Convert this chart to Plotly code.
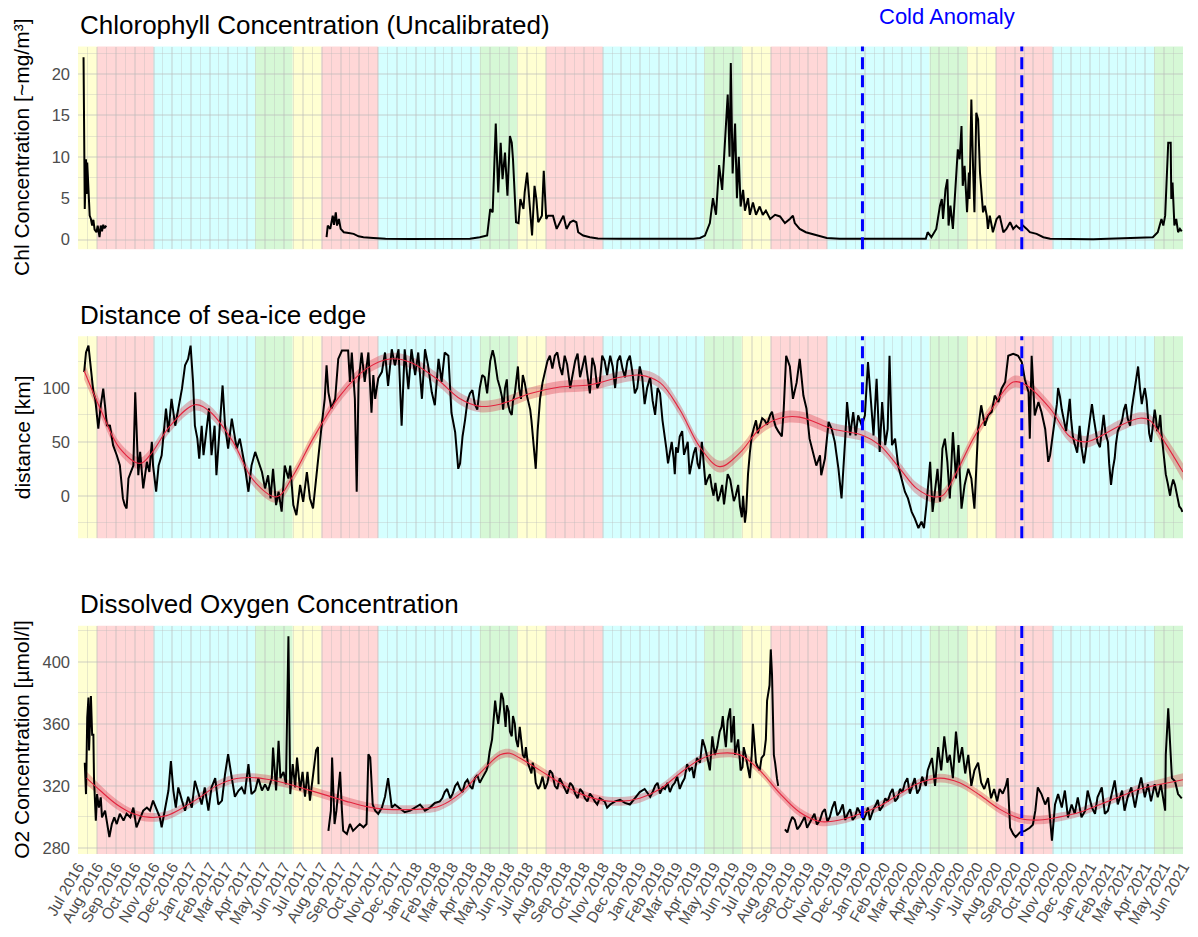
import pandas as pd
import plotly.graph_objects as go

# ---------------- DATA (time given as days since 2016-07-01) ----------------
START = pd.Timestamp("2016-07-01")
END = pd.Timestamp("2021-06-01")

# Chlorophyll (uncalibrated) segments
chl_seg1 = [(9, 22.0), (11, 3.7), (13, 9.7), (14, 5.5), (15, 9.3), (17, 6.4), (19, 2.9), (21, 2.5),
            (23, 1.7), (25, 2.4), (27, 1.2), (30, 0.9), (32, 1.7), (35, 0.3), (37, 1.7), (39, 1.0),
            (41, 1.8), (43, 1.4), (46, 1.7)]
chl_seg2 = [(404, 0.3), (406, 1.7), (410, 1.3), (414, 2.9), (416, 1.8), (419, 3.3), (421, 1.7), (424, 2.5),
            (427, 1.3), (432, 0.9), (440, 0.8), (448, 0.7), (456, 0.4), (464, 0.3), (480, 0.2), (500, 0.1),
            (540, 0.08), (600, 0.06), (637, 0.1), (653, 0.3), (665, 0.5), (670, 3.7), (674, 3.3), (679, 14.0),
            (683, 5.7), (687, 11.7), (690, 7.3), (694, 10.5), (698, 5.3), (702, 12.5), (705, 11.7), (707, 9.7),
            (712, 2.1), (716, 2.0), (719, 4.9), (724, 3.7), (726, 5.7), (730, 8.1), (735, 2.9), (738, 0.5),
            (742, 6.5), (745, 4.9), (748, 2.1), (754, 2.9), (757, 8.3), (761, 2.5), (764, 2.9), (772, 2.9),
            (778, 1.3), (783, 2.1), (789, 2.9), (794, 1.3), (800, 2.1), (805, 2.3), (810, 2.1), (813, 0.9),
            (821, 0.5), (832, 0.3), (845, 0.15), (880, 0.1), (950, 0.08), (1000, 0.1), (1011, 0.2), (1019, 0.5),
            (1027, 2.0), (1032, 5.0), (1037, 3.0), (1042, 9.0), (1047, 6.0), (1052, 12.0), (1056, 17.5),
            (1059, 10.0), (1061, 21.3), (1064, 8.0), (1068, 14.0), (1071, 5.0), (1074, 10.0), (1077, 4.0),
            (1081, 6.0), (1084, 3.5), (1089, 5.0), (1092, 3.0), (1097, 4.5), (1102, 3.0), (1108, 4.0),
            (1113, 3.0), (1118, 3.5), (1125, 2.5), (1133, 3.0), (1141, 2.8), (1149, 2.0), (1157, 2.5),
            (1162, 2.9), (1165, 2.0), (1173, 1.3), (1183, 0.9), (1201, 0.5), (1217, 0.2), (1238, 0.1),
            (1300, 0.06), (1378, 0.1), (1381, 0.9), (1387, 0.3), (1395, 1.3), (1401, 4.1), (1404, 4.9),
            (1406, 2.5), (1410, 6.1), (1413, 7.3), (1415, 1.7), (1418, 4.1), (1422, 1.3), (1427, 7.7),
            (1430, 10.9), (1433, 9.7), (1436, 13.7), (1438, 6.5), (1441, 8.9), (1445, 3.3), (1448, 8.1),
            (1449, 4.9), (1452, 16.9), (1455, 8.1), (1457, 3.3), (1460, 15.3), (1463, 14.5), (1466, 8.1),
            (1468, 5.7), (1471, 3.3), (1474, 4.1), (1477, 2.9), (1479, 1.3), (1482, 2.9), (1487, 0.9),
            (1493, 2.5), (1498, 2.9), (1504, 0.9), (1509, 1.3), (1515, 2.1), (1520, 1.3), (1525, 1.7),
            (1531, 1.3), (1536, 1.7), (1542, 1.3), (1547, 0.9), (1558, 0.7), (1569, 0.3), (1580, 0.1),
            (1650, 0.06), (1747, 0.3), (1755, 0.9), (1761, 2.5), (1764, 1.7), (1767, 2.9), (1769, 6.5),
            (1772, 11.7), (1776, 11.7), (1777, 4.9), (1779, 6.9), (1782, 1.7), (1785, 2.5), (1788, 0.9),
            (1791, 1.3), (1794, 1.0)]

# Distance of sea-ice edge [km]
dist_obs = [(10, 114.8), (13, 133), (17, 139.4), (20, 121), (25, 96.3), (28, 90), (33, 62.3), (37, 83.9),
            (41, 99.4), (44, 83), (47, 65.4), (52, 65), (57, 46.9), (63, 37.6), (68, 28.3), (73, -2.5),
            (76, -8.7), (79, -11.8), (82, 16), (86, 22.2), (90, 28), (93, 96), (95, 59), (98, 19), (101, 40.7),
            (104, 16), (106, 6.8), (112, 31.5), (116, 22), (120, 50), (122, 28), (127, 3.7), (131, 28),
            (136, 37.6), (143, 80.8), (147, 59), (152, 90), (158, 65), (163, 81), (169, 99.4), (174, 121),
            (179, 127), (183, 139.4), (187, 105.6), (190, 65), (194, 53), (197, 34.5), (201, 65), (204, 37.6),
            (209, 65), (213, 81), (217, 37.6), (222, 65), (225, 19), (230, 59), (235, 102.4), (239, 65),
            (244, 43.8), (250, 71.6), (254, 56), (258, 43.8), (263, 53), (271, 28.3), (277, 3.7), (282, 28),
            (288, 40.7), (293, 31.5), (299, 22), (304, 6.8), (309, 19), (313, -2.5), (317, 25), (322, -8.7),
            (326, 3.7), (331, -14.8), (336, 28), (342, 16), (345, 28), (350, -8.7), (355, -18), (361, 10),
            (366, -5.6), (372, 22), (377, -2.5), (382, -11.8), (388, 22), (391, 40.7), (396, 65), (401, 90),
            (404, 121), (407, 96), (412, 81), (418, 90), (423, 127), (429, 134.8), (434, 134.8), (439, 134.8),
            (442, 105.6), (445, 133), (450, 90), (453, 3.7), (456, 105), (461, 133), (466, 105.6), (472, 133),
            (477, 77), (480, 112), (483, 90), (488, 109), (494, 115), (499, 133), (504, 102), (510, 136),
            (515, 121), (521, 136), (526, 65), (531, 136), (537, 99), (542, 136), (548, 112), (553, 133),
            (559, 90), (564, 136), (569, 121), (575, 96), (580, 84), (586, 127), (591, 105.6), (596, 133),
            (602, 130), (607, 77), (613, 59), (618, 25), (621, 30), (625, 55), (629, 70), (633, 88), (637, 95),
            (641, 98), (645, 85), (649, 80), (653, 100), (657, 112), (661, 110), (665, 95), (670, 125),
            (674, 135), (677, 128), (679, 120), (682, 108), (686, 100), (689, 92), (691, 80), (694, 100),
            (697, 108), (699, 85), (702, 78), (705, 75), (707, 88), (710, 95), (712, 105), (715, 120),
            (717, 100), (720, 90), (723, 112), (726, 105), (730, 92), (735, 80), (737, 70), (739, 55),
            (741, 40), (744, 25), (747, 60), (751, 90), (755, 105), (759, 115), (763, 125), (767, 130),
            (771, 118), (775, 130), (779, 133), (783, 120), (787, 112), (791, 130), (795, 122), (800, 100),
            (804, 112), (808, 125), (812, 132), (816, 110), (820, 120), (824, 130), (828, 112), (832, 95),
            (836, 128), (840, 120), (844, 100), (848, 105), (852, 130), (856, 125), (860, 112), (865, 130),
            (869, 120), (873, 100), (877, 125), (881, 130), (885, 118), (889, 110), (893, 125), (897, 130),
            (901, 115), (905, 95), (909, 100), (913, 120), (917, 110), (921, 85), (925, 100), (930, 110),
            (934, 88), (938, 75), (942, 100), (946, 95), (950, 70), (954, 55), (956, 45), (959, 30), (962, 40),
            (965, 50), (968, 35), (970, 20), (972, 45), (975, 40), (978, 55), (982, 60), (985, 38), (988, 45),
            (991, 50), (994, 20), (997, 30), (1001, 40), (1004, 45), (1007, 30), (1010, 25), (1014, 50),
            (1017, 30), (1020, 10), (1023, 15), (1027, 20), (1030, 8), (1033, 0), (1036, 12), (1040, -5),
            (1043, 0), (1047, 10), (1050, -8), (1053, 5), (1056, 20), (1060, 15), (1063, 5), (1066, -5),
            (1069, 0), (1073, 10), (1076, -10), (1079, -20), (1081, 0), (1084, -25), (1086, -15), (1089, 20),
            (1092, 40), (1095, 55), (1098, 62), (1102, 70), (1105, 58), (1108, 65), (1112, 72), (1116, 70),
            (1120, 66), (1125, 75), (1128, 78), (1131, 70), (1134, 64), (1138, 60), (1141, 58), (1144, 55),
            (1147, 80), (1151, 130), (1157, 120),
            (1162, 90), (1168, 105), (1173, 127), (1179, 93), (1184, 81), (1189, 53), (1195, 40.7), (1200, 28),
            (1206, 37.6), (1208, 19), (1214, 34.5), (1220, 68.5), (1225, 62), (1230, 50), (1236, 25),
            (1241, -2.5), (1247, 53), (1250, 87), (1255, 56), (1260, 77.7), (1264, 56), (1268, 74.6),
            (1274, 65), (1279, 74.6), (1284, 124), (1288, 93), (1293, 56), (1298, 108.6), (1303, 40.7),
            (1307, 87), (1312, 47), (1316, 62), (1319, 130), (1323, 47), (1328, 53), (1333, 28), (1339, 16),
            (1344, 3.7), (1349, -2.5), (1355, -15), (1360, -21), (1366, -30), (1371, -24), (1375, -30),
            (1379, -8.7), (1385, 31.5), (1389, -15), (1393, 3.7), (1397, 25), (1401, -5.6), (1405, 43.8),
            (1409, 53), (1413, 31.5), (1417, -2.5), (1422, 59), (1427, 16), (1431, 47), (1436, -12),
            (1441, 9.8), (1447, 25), (1452, 16), (1457, -12), (1463, 62), (1468, 84), (1474, 65), (1479, 74.6),
            (1485, 77.7), (1490, 93), (1496, 87), (1501, 99.4), (1507, 105.6), (1512, 130), (1520, 131.8),
            (1528, 130), (1534, 124), (1539, 108), (1545, 96), (1547, 53), (1550, 130), (1555, 74.6),
            (1561, 87), (1566, 77.7), (1572, 62), (1577, 31.5), (1580, 37.6), (1584, 55), (1588, 70),
            (1591, 85), (1593, 100), (1596, 92), (1599, 80), (1603, 70), (1606, 60), (1609, 75), (1612, 90),
            (1614, 72), (1617, 55), (1620, 48), (1624, 40), (1626, 52), (1628, 65), (1631, 45), (1635, 30),
            (1638, 42), (1641, 55), (1644, 70), (1648, 85), (1651, 72), (1654, 60), (1657, 50), (1661, 45),
            (1664, 62), (1667, 75), (1670, 58), (1674, 50), (1676, 30), (1679, 10), (1682, 25), (1685, 35),
            (1687, 48), (1690, 60), (1693, 64), (1697, 70), (1700, 80), (1703, 85), (1706, 72), (1710, 65),
            (1713, 82), (1716, 95), (1719, 105), (1723, 120), (1726, 100), (1729, 85), (1731, 92), (1734, 100),
            (1737, 88), (1739, 70), (1741, 58), (1744, 50), (1747, 68), (1750, 80), (1752, 72), (1754, 60),
            (1757, 65), (1759, 75), (1761, 58), (1764, 40), (1766, 30), (1768, 20), (1771, 12), (1775, 0),
            (1777, 8), (1780, 15), (1783, 10), (1785, 5), (1788, -2), (1790, -10), (1793, -12), (1795, -15)]
dist_smooth = [(10, 116), (36, 81), (68, 44), (101, 30), (117, 37.6), (150, 65), (190, 84.5), (215, 77.7),
               (252, 50), (285, 14.4), (323, -1), (350, 19), (382, 53), (426, 93), (469, 118), (507, 127),
               (540, 124), (583, 108.6), (621, 90), (653, 83), (686, 85), (735, 95), (783, 101), (832, 103),
               (881, 110), (913, 112), (946, 105), (978, 80), (1011, 45), (1043, 27), (1076, 40), (1108, 62),
               (1141, 72), (1173, 73), (1227, 62), (1276, 56), (1303, 47), (1336, 25), (1363, 6.8), (1390, -1),
               (1406, 0.5), (1428, 22), (1455, 53), (1482, 77.7), (1520, 105.6), (1542, 102.4), (1580, 81),
               (1612, 55), (1637, 50), (1661, 55), (1693, 65), (1726, 72), (1742, 70), (1766, 50), (1796, 22)]
dist_band = [8.0, 6.5, 5.5, 5.5, 5.5, 5.5, 5.5, 5.5, 5.5, 5.5, 5.5, 5.5, 5.5, 5.5, 5.5, 5.5, 5.5, 5.5, 5.5,
             5.5, 5.5, 5.5, 5.5, 5.5, 5.5, 5.5, 5.5, 5.5, 5.5, 5.5, 5.5, 5.5, 5.5, 5.5, 5.5, 5.5, 5.5, 5.5,
             5.5, 5.5, 5.5, 5.5, 5.5, 5.5, 5.5, 5.5, 5.5, 5.5, 5.5, 5.5, 5.5, 5.5, 5.5, 6.5, 8.0]

# Dissolved oxygen [µmol/l] segments
o2_seg1 = [(11, 335), (13, 314.7), (15, 364), (17, 377), (18, 342.8), (21, 378), (23, 353), (25, 353),
           (26, 325), (29, 297.6), (31, 314.7), (34, 306), (37, 312.6), (39, 299.7), (44, 304), (47, 295.4),
           (51, 287), (55, 295.4), (59, 299.7), (63, 295.4), (68, 302), (74, 297.6), (79, 302), (85, 299.7),
           (90, 306), (95, 293.3), (101, 299.7), (106, 304), (112, 306), (117, 304), (122, 310.5), (128, 304),
           (133, 299.7), (136, 293.3), (141, 304), (147, 317), (151, 336), (155, 317), (159, 306), (163, 319),
           (169, 310.5), (174, 304), (179, 313), (185, 306), (190, 323.3), (196, 314.7), (201, 308), (206, 319),
           (212, 304), (217, 319), (223, 325), (228, 308), (234, 310.5), (239, 327.5), (244, 340.4), (250, 325),
           (255, 313), (261, 317), (266, 319), (271, 314.7), (277, 334), (282, 314.7), (288, 317), (293, 325),
           (299, 317), (304, 321), (309, 317), (315, 325), (317, 344.7), (322, 317), (326, 349), (329, 325),
           (334, 329), (338, 321), (342, 416.5), (345, 314.7), (349, 334), (353, 319), (356, 338.3), (361, 317),
           (365, 329), (369, 313), (373, 329), (377, 310.5), (381, 325), (384, 334), (387, 343), (390, 345),
           (391, 321)]
o2_seg2 = [(407, 291), (411, 304), (413, 338.3), (417, 295.4), (420, 304), (426, 329), (429, 304), (431, 291),
           (437, 289), (442, 295.4), (447, 291), (453, 293.3), (458, 295.4), (464, 293.3), (469, 295.4),
           (472, 340.4), (475, 338.3), (479, 308), (483, 304), (488, 302), (494, 306), (499, 313), (504, 325),
           (510, 306), (515, 308), (521, 306), (531, 303), (540, 304), (548, 306), (556, 308), (564, 304),
           (572, 306), (580, 309), (588, 310), (592, 312), (596, 316), (600, 318), (605, 312), (609, 315),
           (613, 320), (617, 322), (621, 318), (625, 316), (629, 322), (633, 324), (637, 320), (641, 318),
           (645, 325), (649, 327), (653, 322), (657, 325), (661, 328), (664, 330), (666, 333), (669, 342),
           (673, 350), (675, 362), (678, 375), (680, 368), (683, 360), (686, 370), (688, 380), (691, 376),
           (694, 365), (695, 358), (697, 372), (700, 368), (702, 355), (705, 352), (707, 365), (710, 360),
           (712, 350), (715, 345), (718, 358), (720, 352), (723, 340), (726, 338), (728, 345), (731, 335),
           (735, 330), (737, 328), (739, 335), (742, 330), (744, 322), (748, 318), (751, 320), (755, 326),
           (759, 318), (763, 322), (767, 330), (771, 328), (775, 320), (779, 318), (783, 325), (787, 322),
           (791, 318), (795, 315), (800, 322), (804, 320), (808, 315), (812, 312), (816, 318), (820, 316),
           (824, 312), (828, 310), (832, 315), (836, 313), (840, 310), (844, 308), (848, 312), (852, 311),
           (856, 310), (860, 306), (865, 308), (873, 310), (881, 311), (889, 309), (897, 308), (905, 312),
           (913, 316), (921, 318), (930, 313), (934, 316), (938, 320), (942, 322), (946, 315), (950, 319),
           (954, 318), (958, 322), (962, 316), (966, 320), (970, 322), (974, 326), (978, 318), (982, 322),
           (986, 325), (990, 334), (994, 330), (998, 332), (1001, 325), (1006, 338), (1011, 335), (1015, 350),
           (1019, 345), (1023, 338), (1027, 330), (1031, 352), (1035, 340), (1039, 345), (1043, 355),
           (1046, 358), (1048, 365), (1051, 352), (1053, 345), (1056, 362), (1060, 370), (1062, 348),
           (1064, 355), (1066, 365), (1068, 340), (1070, 345), (1073, 350), (1075, 340), (1077, 330),
           (1080, 332), (1082, 345), (1085, 340), (1087, 335), (1090, 328), (1092, 325), (1095, 340),
           (1097, 360), (1100, 345), (1102, 335), (1105, 332), (1108, 330), (1111, 338), (1115, 340),
           (1118, 350), (1120, 375), (1124, 385), (1126, 408), (1128, 392), (1129, 375), (1131, 340),
           (1133, 335), (1134, 330), (1136, 325), (1138, 320)]
o2_seg3 = [(1149, 292), (1153, 290), (1157, 296), (1161, 300), (1165, 298), (1169, 292), (1173, 294),
           (1177, 297), (1181, 300), (1185, 293), (1189, 296), (1193, 300), (1197, 302), (1201, 295),
           (1206, 298), (1210, 303), (1214, 305), (1218, 297), (1222, 300), (1226, 306), (1230, 310),
           (1234, 301), (1238, 303), (1243, 308), (1247, 298), (1251, 302), (1255, 305), (1259, 298),
           (1263, 300), (1267, 306), (1271, 303), (1274, 300), (1277, 298), (1281, 302), (1284, 306),
           (1287, 298), (1290, 302), (1293, 305), (1297, 308), (1300, 311), (1303, 304), (1308, 307),
           (1312, 312), (1316, 310), (1320, 315), (1324, 318), (1328, 310), (1332, 312), (1336, 318),
           (1340, 316), (1344, 322), (1348, 325), (1352, 315), (1356, 320), (1360, 325), (1364, 315),
           (1368, 318), (1372, 326), (1376, 322), (1378, 320), (1381, 330), (1388, 338), (1393, 320),
           (1398, 345), (1403, 330),
           (1408, 352), (1413, 335), (1417, 340), (1422, 325), (1427, 355), (1432, 335), (1437, 345),
           (1442, 328), (1447, 340), (1452, 320), (1457, 330), (1463, 335), (1468, 322), (1473, 318),
           (1479, 325), (1484, 312), (1489, 318), (1494, 310), (1498, 318), (1503, 315), (1508, 320),
           (1511, 325), (1515, 293), (1520, 289), (1524, 287), (1531, 290), (1539, 291), (1547, 293),
           (1552, 295), (1556, 304), (1560, 319), (1566, 314.7), (1572, 308), (1577, 312.6), (1583, 284.7),
           (1588, 308), (1593, 314.7), (1599, 306), (1604, 317), (1609, 299.7), (1615, 308), (1620, 302),
           (1625, 312.6), (1631, 299.7), (1637, 304), (1641, 317), (1648, 306), (1653, 302), (1657, 312.6),
           (1664, 319), (1669, 302), (1674, 304), (1680, 314.7), (1685, 323.5), (1690, 308), (1697, 317),
           (1701, 304), (1706, 312.6), (1712, 319), (1718, 306), (1723, 317), (1728, 325.4), (1734, 312.6),
           (1739, 321), (1744, 310), (1750, 321), (1755, 312.6), (1760, 321), (1767, 304), (1768, 340),
           (1772, 370), (1775, 345), (1778, 325), (1783, 323), (1788, 314.7), (1794, 312)]
o2_smooth = [(14, 325), (36, 317), (63, 308), (90, 302), (117, 299.7), (144, 300.8), (171, 306), (198, 312.6),
             (225, 320), (252, 324.3), (280, 325.4), (307, 324.3), (334, 322), (361, 319), (388, 315.8),
             (415, 312.6), (442, 309.4), (469, 306.6), (496, 305), (523, 304.7), (556, 305), (588, 307),
             (621, 315), (653, 328), (686, 340), (702, 341), (718, 338), (751, 330), (783, 322), (816, 315),
             (848, 311), (881, 310), (913, 312), (946, 318), (978, 328), (1011, 337), (1043, 341), (1076, 340),
             (1108, 330), (1141, 315), (1173, 303), (1206, 297), (1238, 298), (1271, 302), (1303, 307),
             (1336, 315), (1368, 322), (1401, 325), (1433, 322), (1466, 314), (1498, 305), (1531, 299),
             (1563, 298), (1596, 300), (1628, 303), (1661, 308), (1693, 313), (1726, 318), (1759, 321),
             (1796, 324)]
o2_band = [4.2, 3.5, 3.0, 2.8, 2.8, 2.8, 2.8, 2.8, 2.8, 2.8, 2.8, 2.8, 2.8, 2.8, 2.8, 2.8, 2.8, 2.8, 2.8, 2.8,
           2.8, 2.8, 2.8, 2.8, 2.8, 2.8, 2.8, 2.8, 2.8, 2.8, 2.8, 2.8, 2.8, 2.8, 2.8, 2.8, 2.8, 2.8, 2.8, 2.8,
           2.8, 2.8, 2.8, 2.8, 2.8, 2.8, 2.8, 2.8, 2.8, 2.8, 2.8, 2.8, 2.8, 2.8, 2.8, 2.8, 2.8, 3.0, 3.5, 4.2]

# Seasons (background bands)
season_starts = ["2016-07-01", "2016-08-01", "2016-11-01", "2017-04-15", "2017-06-15", "2017-08-01",
                 "2017-11-01", "2018-04-15", "2018-06-15", "2018-08-01", "2018-11-01", "2019-04-15",
                 "2019-06-15", "2019-08-01", "2019-11-01", "2020-04-15", "2020-06-15", "2020-08-01",
                 "2020-11-01", "2021-04-15"]
season_names = ["summer", "autumn", "winter", "spring", "summer", "autumn", "winter", "spring", "summer",
                "autumn", "winter", "spring", "summer", "autumn", "winter", "spring", "summer", "autumn",
                "winter", "spring"]
season_colors = {"summer": "#FFFFD2", "autumn": "#FFD7D7", "winter": "#D5FFFF", "spring": "#D6F8D6"}

anomaly_dates = ["2019-12-28", "2020-09-12"]
anomaly_label = "Cold Anomaly"
anomaly_label_date = "2020-05-13"

titles = ["Chlorophyll Concentration (Uncalibrated)", "Distance of sea-ice edge",
          "Dissolved Oxygen Concentration"]
ytitles = ["Chl Concentration [~mg/m³]", "distance [km]", "O2 Concentration [µmol/l]"]
y_ranges = [[-1.15, 23.3], [-39.5, 148.1], [276.1, 423.3]]
y_major = [[0, 5, 10, 15, 20], [0, 50, 100], [280, 320, 360, 400]]
y_minor = [[2.5, 7.5, 12.5, 17.5, 22.5], [-25, 25, 75, 125], [300, 340, 380, 420]]

# ---------------- helpers ----------------
def dates(days):
    return [START + pd.Timedelta(days=d) for d in days]

def unpack(segments):
    xs, ys = [], []
    for i, seg in enumerate(segments):
        seg = sorted(seg)
        if i > 0:
            xs.append(None)
            ys.append(None)
        xs += dates([p[0] for p in seg])
        ys += [p[1] for p in seg]
    return xs, ys

W, H = 1198, 937
L, R = 78, 15
panel_px = [(46.7, 250.0), (337.3, 540.0), (627.7, 856.7)]
domains = [[1 - b / H, 1 - t / H] for t, b in panel_px]

fig = go.Figure()

BLACK = "#000000"
RED = "#E3243E"
RIBBON = "rgba(210, 45, 60, 0.32)"

def add_smooth(pts, band, ax):
    xs = dates([p[0] for p in pts])
    ys = [p[1] for p in pts]
    lo = [y - b for y, b in zip(ys, band)]
    hi = [y + b for y, b in zip(ys, band)]
    fig.add_trace(go.Scatter(x=xs, y=lo, mode="lines", line=dict(width=0, shape="spline"),
                             xaxis=ax[0], yaxis=ax[1], showlegend=False, hoverinfo="skip"))
    fig.add_trace(go.Scatter(x=xs, y=hi, mode="lines", line=dict(width=0, shape="spline"),
                             fill="tonexty", fillcolor=RIBBON,
                             xaxis=ax[0], yaxis=ax[1], showlegend=False, hoverinfo="skip"))
    return xs, ys

LW = 2.0
# panel 1
x, y = unpack([chl_seg1, chl_seg2])
fig.add_trace(go.Scatter(x=x, y=y, mode="lines", line=dict(color=BLACK, width=LW),
                         xaxis="x", yaxis="y", showlegend=False, connectgaps=False))
# panel 2
sx, sy = add_smooth(dist_smooth, dist_band, ("x2", "y2"))
x, y = unpack([dist_obs])
fig.add_trace(go.Scatter(x=x, y=y, mode="lines", line=dict(color=BLACK, width=LW),
                         xaxis="x2", yaxis="y2", showlegend=False))
fig.add_trace(go.Scatter(x=sx, y=sy, mode="lines", line=dict(color=RED, width=1.1, shape="spline"),
                         xaxis="x2", yaxis="y2", showlegend=False))
# panel 3
sx, sy = add_smooth(o2_smooth, o2_band, ("x3", "y3"))
x, y = unpack([o2_seg1, o2_seg2, o2_seg3])
fig.add_trace(go.Scatter(x=x, y=y, mode="lines", line=dict(color=BLACK, width=LW),
                         xaxis="x3", yaxis="y3", showlegend=False, connectgaps=False))
fig.add_trace(go.Scatter(x=sx, y=sy, mode="lines", line=dict(color=RED, width=1.1, shape="spline"),
                         xaxis="x3", yaxis="y3", showlegend=False))

# axes
month_ticks = pd.date_range(START, END, freq="MS")
mid_ticks = [month_ticks[i] + (month_ticks[i + 1] - month_ticks[i]) / 2 for i in range(len(month_ticks) - 1)]
GRID = "rgba(185,185,185,0.34)"
FONT = "Liberation Sans, Arial, sans-serif"

layout = dict(width=W, height=H, margin=dict(l=L, r=R, t=0, b=0),
              paper_bgcolor="white", plot_bgcolor="white", font=dict(family=FONT),
              hovermode=False)
for i in range(3):
    sfx = "" if i == 0 else str(i + 1)
    layout["xaxis" + sfx] = dict(
        type="date", range=[START, END], domain=[0, 1], anchor="y" + sfx,
        tickmode="array", tickvals=list(month_ticks), tickformat="%b %Y",
        tickangle=-60, showticklabels=(i == 2), ticks="",
        tickfont=dict(size=15.5, color="#4D4D4D", family=FONT),
        showgrid=True, gridcolor=GRID, gridwidth=1.7, zeroline=False, showline=False,
        minor=dict(tickmode="array", tickvals=mid_ticks, showgrid=True, gridcolor=GRID, gridwidth=1.2),
        matches=None if i == 0 else "x",
    )
    layout["yaxis" + sfx] = dict(
        range=y_ranges[i], domain=domains[i], anchor="x" + sfx,
        tickmode="array", tickvals=y_major[i], ticks="", ticklabelstandoff=7,
        tickfont=dict(size=16.5, color="#4D4D4D", family=FONT),
        showgrid=True, gridcolor=GRID, gridwidth=1.7, zeroline=False, showline=False,
        minor=dict(tickmode="array", tickvals=y_minor[i], showgrid=True, gridcolor=GRID, gridwidth=1.2),
    )
fig.update_layout(**layout)

# season bands
shapes = []
edges = [pd.Timestamp(s) for s in season_starts] + [END]
for i in range(3):
    sfx = "" if i == 0 else str(i + 1)
    for k, name in enumerate(season_names):
        shapes.append(dict(type="rect", xref="x" + sfx, yref="y" + sfx + " domain",
                           x0=edges[k], x1=edges[k + 1], y0=0, y1=1,
                           fillcolor=season_colors[name], line=dict(width=0), layer="below"))
    for d in anomaly_dates:
        shapes.append(dict(type="line", xref="x" + sfx, yref="y" + sfx + " domain",
                           x0=d, x1=d, y0=0, y1=1,
                           line=dict(color="#0000FF", width=3, dash="12px,6px"), layer="above"))
fig.update_layout(shapes=shapes)

annotations = []
title_y = [42.0, 333.4, 623.4]
for i in range(3):
    annotations.append(dict(text=titles[i], xref="paper", yref="paper", x=0, y=1 - title_y[i] / H,
                            xanchor="left", yanchor="bottom", showarrow=False,
                            font=dict(size=26, color="black", family=FONT)))
    t, b = panel_px[i]
    annotations.append(dict(text=ytitles[i], xref="paper", yref="paper", x=(22 - L) / (W - L - R),
                            y=1 - (t + b) / 2 / H, xanchor="center", yanchor="middle", textangle=-90,
                            showarrow=False, font=dict(size=21, color="black", family=FONT)))
annotations.append(dict(text=anomaly_label, xref="x", yref="paper", x=anomaly_label_date, y=1 - 17 / H,
                        xanchor="center", yanchor="middle", showarrow=False,
                        font=dict(size=22, color="#0000FF", family=FONT)))
fig.update_layout(annotations=annotations)

fig.write_html("out.html")
